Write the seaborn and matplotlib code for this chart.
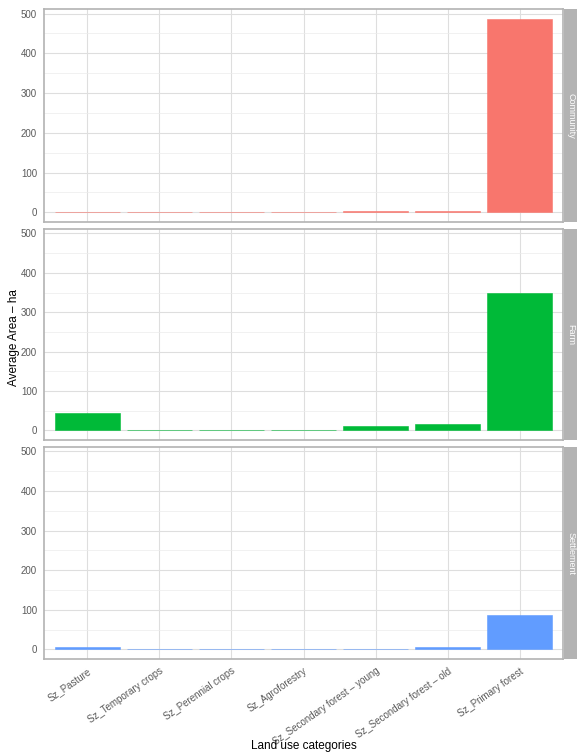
import numpy as np
import pandas as pd
import seaborn as sns
import matplotlib.pyplot as plt
from matplotlib.ticker import MultipleLocator

categories = ["Sz_Pasture", "Sz_Temporary crops", "Sz_Perennial crops", "Sz_Agroforestry",
              "Sz_Secondary forest \u2013 young", "Sz_Secondary forest \u2013 old", "Sz_Primary forest"]
community = [2, 2, 2, 2, 4, 4, 487]
farm = [45, 2, 2, 2, 12, 17, 350]
settlement = [7, 2, 2, 2, 2, 7, 88]
groups = ["Community", "Farm", "Settlement"]
colors = ["#F8766D", "#00BA38", "#619CFF"]

df = pd.DataFrame({
    "category": categories * 3,
    "area": community + farm + settlement,
    "group": np.repeat(groups, len(categories)),
})

sns.set_style("white")
plt.rcParams['font.family'] = ['Liberation Sans', 'DejaVu Sans']

W, H = 577, 756
fig = plt.figure(figsize=(W / 100, H / 100), dpi=100)

left, right = 44, 563
strip_w = 14
tops = [9, 229, 447]
bottoms = [222, 440, 659]
ymax = max(community + farm + settlement)
ylim = (-0.05 * ymax, 1.05 * ymax)
border = "#B3B3B3"

for i, g in enumerate(groups):
    t, b = tops[i], bottoms[i]
    ax = fig.add_axes([left / W, 1 - b / H, (right - left) / W, (b - t) / H])
    sub = df[df["group"] == g]
    sns.barplot(data=sub, x="category", y="area", order=categories, color=colors[i],
                width=0.9, errorbar=None, saturation=1, ax=ax, zorder=3)
    for p in ax.patches:
        p.set_edgecolor(colors[i])
        p.set_linewidth(0.4)
    ax.set_ylim(*ylim)
    ax.set_xlim(-0.6, len(categories) - 0.4)
    ax.yaxis.set_major_locator(MultipleLocator(100))
    ax.yaxis.set_minor_locator(MultipleLocator(50))
    ax.grid(True, which="major", color="#DEDEDE", linewidth=0.8, zorder=0)
    ax.grid(True, which="minor", axis="y", color="#EBEBEB", linewidth=0.5, zorder=0)
    ax.set_axisbelow(True)
    for s in ax.spines.values():
        s.set_color(border)
        s.set_linewidth(1.2)
    ax.tick_params(axis="both", which="major", length=3.5, color=border, labelsize=7,
                   labelcolor="#5A5A5A", width=0.8, pad=1.5)
    ax.tick_params(axis="both", which="minor", length=0)
    ax.set_xlabel("")
    ax.set_ylabel("")
    if i < 2:
        ax.set_xticklabels([])
    else:
        ax.set_xticks(range(len(categories)))
        ax.set_xticklabels(categories, rotation=35, ha="right", rotation_mode="anchor")
    # facet strip
    sax = fig.add_axes([(right + 1) / W, 1 - b / H, strip_w / W, (b - t) / H])
    sax.set_facecolor(border)
    sax.set_xticks([])
    sax.set_yticks([])
    for s in sax.spines.values():
        s.set_visible(False)
    sax.text(0.5, 0.5, g, rotation=-90, ha="center", va="center", color="white",
             fontsize=6.5, transform=sax.transAxes)

fig.text(14 / W, 1 - 338 / H, "Average Area \u2013 ha", rotation=90, ha="center", va="center",
         fontsize=8.5, color="black")
fig.text((left + right) / 2 / W, 1 - 746 / H, "Land use categories", ha="center", va="center",
         fontsize=8.5, color="black")

fig.savefig("out.png", dpi=100, facecolor="white")
